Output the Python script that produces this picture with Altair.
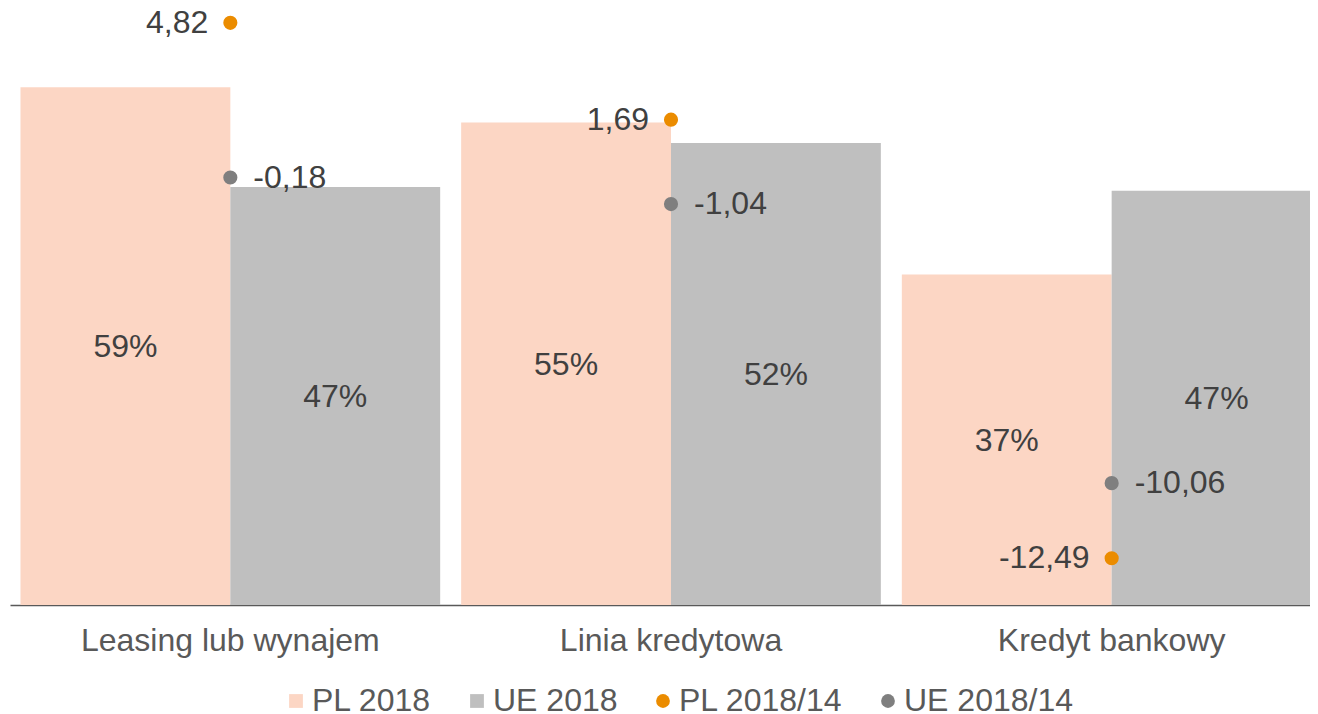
import altair as alt
import pandas as pd

categories = ["Leasing lub wynajem", "Linia kredytowa", "Kredyt bankowy"]
series_bar = ["PL 2018", "UE 2018"]
series_dot = ["PL 2018/14", "UE 2018/14"]
pl_2018 = [58.6, 54.6, 37.4]
ue_2018 = [47.3, 52.3, 46.9]
pl_change = [4.82, 1.69, -12.49]
ue_change = [-0.18, -1.04, -10.06]

all_series = series_bar + series_dot
colors = ["#FCD6C4", "#BFBFBF", "#EB8C00", "#7F7F7F"]
shapes = ["square", "square", "circle", "circle"]

bar_rows = []
for i, c in enumerate(categories):
    bar_rows.append({"category": c, "series": series_bar[0], "value": pl_2018[i]})
    bar_rows.append({"category": c, "series": series_bar[1], "value": ue_2018[i]})
bars_df = pd.DataFrame(bar_rows)

dot_rows = []
for i, c in enumerate(categories):
    dot_rows.append({"category": c, "series": series_dot[0], "change": pl_change[i]})
    dot_rows.append({"category": c, "series": series_dot[1], "change": ue_change[i]})
dots_df = pd.DataFrame(dot_rows)

FONT = "Liberation Sans"
FS = 32

x_enc = alt.X(
    "category:N",
    sort=categories,
    scale=alt.Scale(paddingInner=0.0476, paddingOuter=0.0238),
    axis=alt.Axis(
        title=None, labelAngle=0, ticks=False, labelFontSize=FS, labelFont=FONT,
        labelColor="#595959", domainColor="#595959", domainWidth=1.5,
        labelPadding=20, labelLimit=600,
    ),
)
xoff = alt.XOffset("series:N", sort=series_bar, scale=alt.Scale(paddingInner=0, paddingOuter=0))
y1_scale = alt.Scale(domain=[0, 67.57], nice=False, zero=True)
y2_scale = alt.Scale(domain=[-14.0, 5.3], nice=False, zero=False)

color_enc = alt.Color(
    "series:N",
    scale=alt.Scale(domain=all_series, range=colors),
    legend=alt.Legend(
        title=None, orient="none", direction="horizontal", columns=4,
        legendX=270, legendY=677, labelFontSize=FS, labelFont=FONT,
        labelColor="#595959", symbolSize=190, labelOffset=0, columnPadding=29,
        symbolStrokeWidth=0, labelLimit=600,
    ),
)

bars = alt.Chart(bars_df).mark_bar().encode(
    x=x_enc,
    xOffset=xoff,
    y=alt.Y("value:Q", scale=y1_scale, axis=None),
    color=color_enc,
)

bar_labels = alt.Chart(bars_df).transform_calculate(
    mid="datum.value / 2",
    label="format(datum.value, '.0f') + '%'",
).mark_text(font=FONT, fontSize=FS, color="#404040", baseline="middle", dy=1).encode(
    x=alt.X("category:N", sort=categories),
    xOffset=xoff,
    y=alt.Y("mid:Q", scale=y1_scale, axis=None),
    text="label:N",
)

dots = alt.Chart(dots_df).mark_point(filled=True, size=200, opacity=1).encode(
    x=alt.X("category:N", sort=categories),
    y=alt.Y("change:Q", scale=y2_scale, axis=None),
    color=alt.Color("series:N"),
    shape=alt.Shape("series:N", scale=alt.Scale(domain=all_series, range=shapes)),
)

dot_label_base = alt.Chart(dots_df).transform_calculate(
    label="replace(replace(format(datum.change, '.2f'), '.', ','), '\u2212', '-')"
)
dot_labels_left = dot_label_base.transform_filter(
    alt.datum.series == series_dot[0]
).mark_text(font=FONT, fontSize=FS, color="#404040", align="right", baseline="middle", dx=-22).encode(
    x=alt.X("category:N", sort=categories),
    y=alt.Y("change:Q", scale=y2_scale, axis=None),
    text="label:N",
)
dot_labels_right = dot_label_base.transform_filter(
    alt.datum.series == series_dot[1]
).mark_text(font=FONT, fontSize=FS, color="#404040", align="left", baseline="middle", dx=23).encode(
    x=alt.X("category:N", sort=categories),
    y=alt.Y("change:Q", scale=y2_scale, axis=None),
    text="label:N",
)

chart = alt.layer(
    bars, bar_labels, dots, dot_labels_left, dot_labels_right
).resolve_scale(y="independent").properties(
    width=1322,
    height=597,
    background="white",
    autosize=alt.AutoSizeParams(type="none"),
    padding={"left": 2, "top": 0, "right": -22, "bottom": 109},
).configure_view(stroke=None)

chart.save("out.html", embed_options={"renderer": "svg", "actions": False})
